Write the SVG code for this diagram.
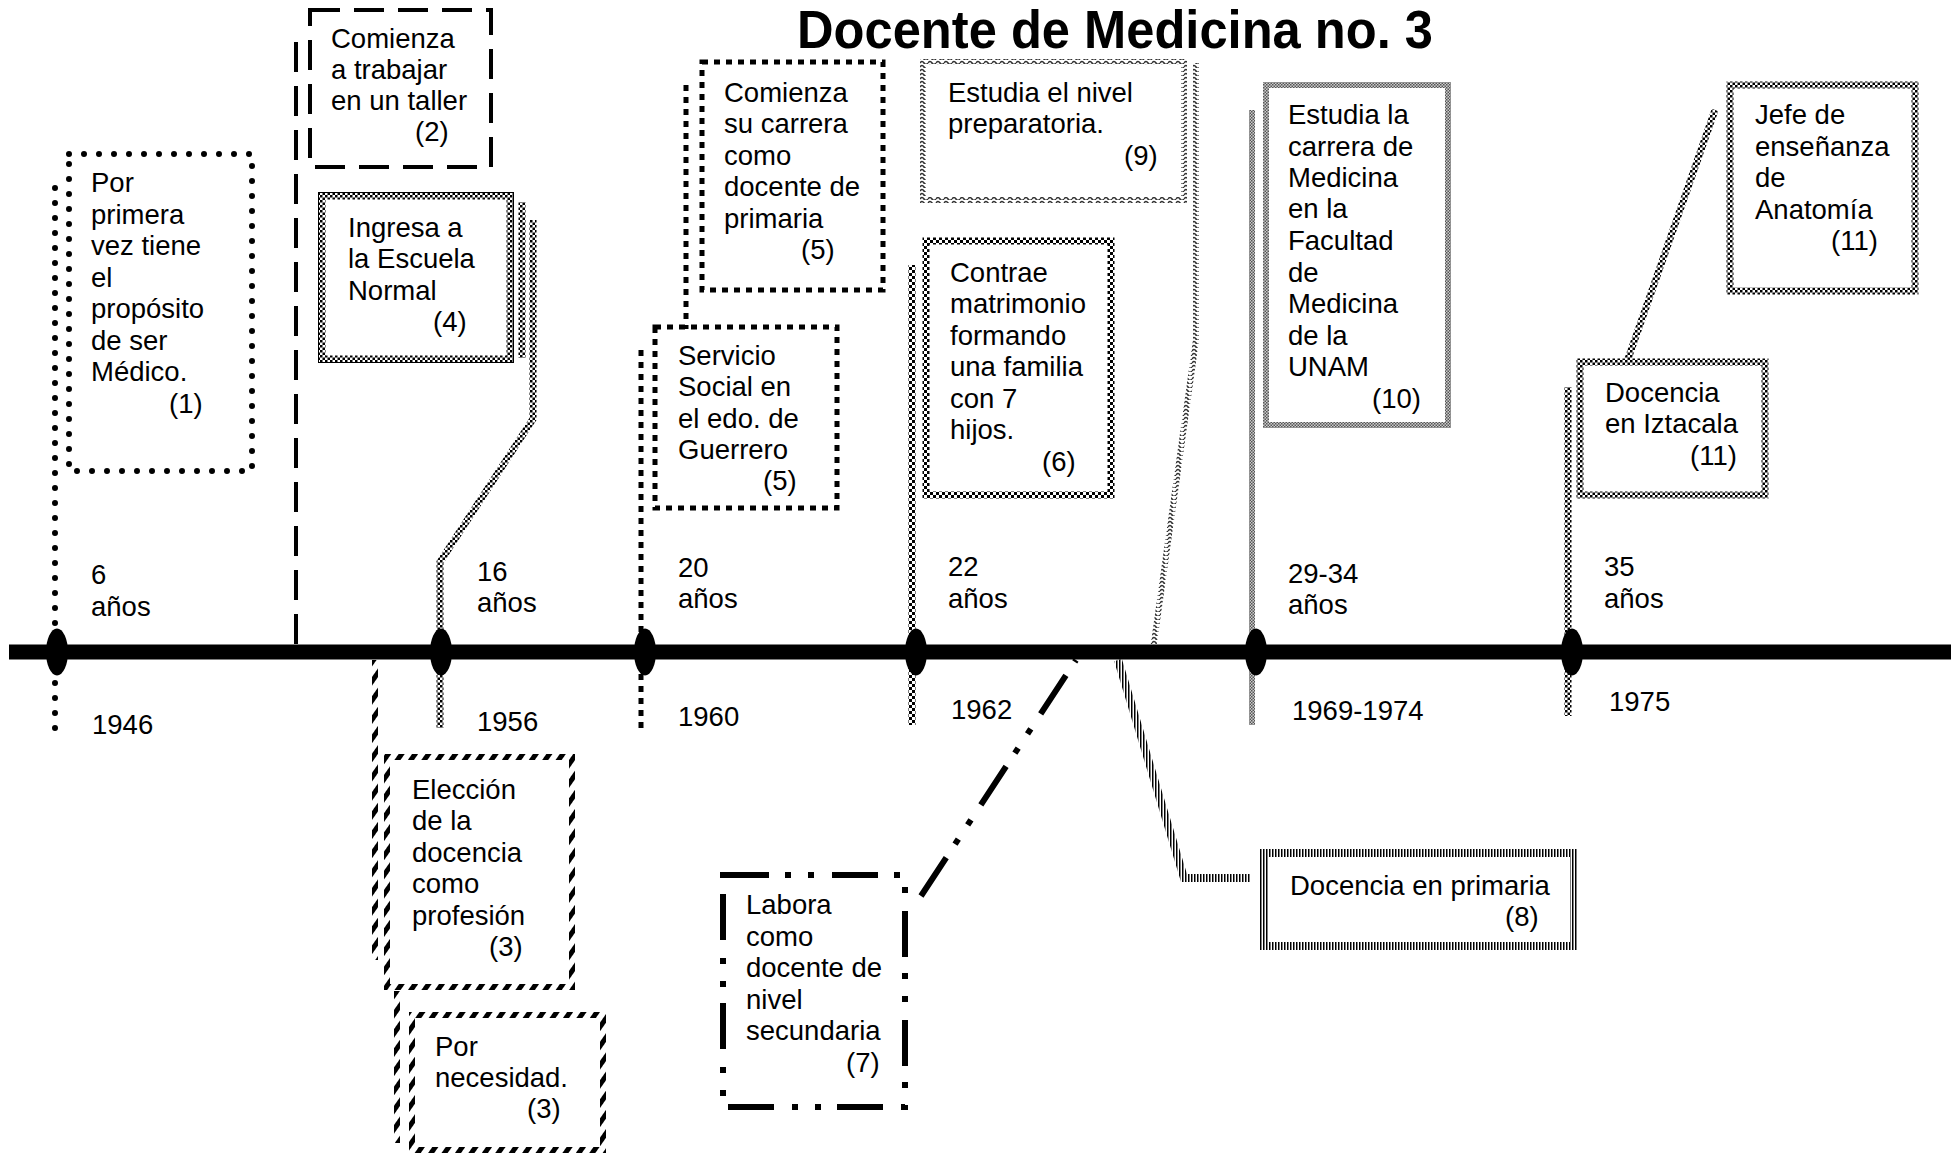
<svg xmlns="http://www.w3.org/2000/svg" width="1959" height="1155" viewBox="0 0 1959 1155">
<defs>
<pattern id="chk" width="5" height="5" patternUnits="userSpaceOnUse"><rect width="5" height="5" fill="#fff"/><rect width="2.5" height="2.5" fill="#000"/><rect x="2.5" y="2.5" width="2.5" height="2.5" fill="#000"/></pattern>
<pattern id="chk6" width="6" height="6" patternUnits="userSpaceOnUse"><rect width="6" height="6" fill="#fff"/><rect width="3" height="3" fill="#000"/><rect x="3" y="3" width="3" height="3" fill="#000"/></pattern>
<pattern id="chkg" width="3" height="3" patternUnits="userSpaceOnUse"><rect width="3" height="3" fill="#ccc"/><rect width="1.5" height="1.5" fill="#555"/><rect x="1.5" y="1.5" width="1.5" height="1.5" fill="#555"/></pattern>
<pattern id="vstr" width="3" height="3" patternUnits="userSpaceOnUse"><rect width="3" height="3" fill="#fff"/><rect width="1.5" height="3" fill="#000"/></pattern>
<pattern id="diag" width="11" height="11" patternUnits="userSpaceOnUse" patternTransform="rotate(35)"><rect width="11" height="11" fill="#fff"/><rect width="5" height="11" fill="#000"/></pattern>
<pattern id="wave" width="8" height="4" patternUnits="userSpaceOnUse"><rect width="8" height="4" fill="#fff"/><path d="M0,3 Q2,0 4,3 T8,3" fill="none" stroke="#333" stroke-width="1.6"/></pattern>
</defs>
<style>
text{font-family:"Liberation Sans",Arial,sans-serif;font-size:27.5px;fill:#000}
.title{font-family:"Liberation Sans Narrow","Liberation Sans",Arial,sans-serif;font-size:54px;font-weight:bold}
.box{fill:#fff}
.dotr{fill:none;stroke:#000;stroke-width:6;stroke-linecap:round;stroke-dasharray:0 15}
.sqd{fill:none;stroke:#000;stroke-width:5;stroke-dasharray:6 6}
.dash{fill:none;stroke:#000;stroke-width:4;stroke-dasharray:30 14}
.chk{fill:none;stroke:url(#chk);stroke-width:7}
.chk6{fill:none;stroke:url(#chk6);stroke-width:7}
.chkg{fill:none;stroke:url(#chkg);stroke-width:6}
.vstr{fill:none;stroke:url(#vstr);stroke-width:8}
.diag{fill:none;stroke:url(#diag);stroke-width:6}
.wave{fill:none;stroke:url(#wave);stroke-width:6}
.ddd{fill:none;stroke:#000;stroke-width:6;stroke-dasharray:46 16 6 17 6 18}
.edge{fill:none;stroke:#000;stroke-width:1}
</style>
<rect width="1959" height="1155" fill="#fff"/>
<text class="title" x="797" y="48" textLength="636" lengthAdjust="spacingAndGlyphs">Docente de Medicina no. 3</text>

<g id="connectors">
<line class="dotr" x1="55" y1="188" x2="55" y2="737"/>
<line class="dash" x1="296" y1="42" x2="296" y2="648"/>
<line class="chk" x1="522" y1="202" x2="522" y2="358"/>
<polyline class="chk" points="533,220 533,419 440,562 440,728"/>
<line class="diag" x1="375" y1="660" x2="375" y2="960"/>
<line class="diag" x1="397" y1="991" x2="397" y2="1143"/>
<line class="sqd" x1="686" y1="85" x2="686" y2="329"/>
<line class="sqd" x1="641" y1="350" x2="641" y2="728"/>
<line class="chk6" x1="912" y1="265" x2="912" y2="725"/>
<polyline class="wave" points="1196,63 1196,340 1153,650"/>
<line class="ddd" x1="921" y1="896" x2="1076" y2="660" stroke-width="5"/>
<polyline class="vstr" points="1118,660 1184,878 1250,878"/>
<line class="chkg" x1="1252" y1="110" x2="1252" y2="725"/>
<line class="chk" x1="1568" y1="387" x2="1568" y2="716"/>
<line class="chk" x1="1715" y1="110" x2="1628" y2="359"/>
</g>

<g id="timeline">
<line x1="9" y1="652" x2="1951" y2="652" stroke="#000" stroke-width="15"/>
<ellipse cx="57" cy="652" rx="11" ry="23.5"/>
<ellipse cx="441" cy="652" rx="11" ry="23.5"/>
<ellipse cx="645" cy="652" rx="11" ry="23.5"/>
<ellipse cx="916" cy="652" rx="11" ry="23.5"/>
<ellipse cx="1256" cy="652" rx="11" ry="23.5"/>
<ellipse cx="1572" cy="652" rx="11" ry="23.5"/>
<text x="91" y="584">6</text><text x="91" y="616">años</text><text x="92" y="734">1946</text>
<text x="477" y="581">16</text><text x="477" y="612">años</text><text x="477" y="731">1956</text>
<text x="678" y="577">20</text><text x="678" y="608">años</text><text x="678" y="726">1960</text>
<text x="948" y="576">22</text><text x="948" y="608">años</text><text x="951" y="719">1962</text>
<text x="1288" y="583">29-34</text><text x="1288" y="614">años</text><text x="1292" y="720">1969-1974</text>
<text x="1604" y="576">35</text><text x="1604" y="608">años</text><text x="1609" y="711">1975</text>
</g>

<g id="n1">
<rect class="box dotr" x="69" y="154" width="183" height="317"/>
<text x="91" y="192">Por</text><text x="91" y="223.5">primera</text><text x="91" y="255">vez tiene</text><text x="91" y="286.5">el</text><text x="91" y="318">propósito</text><text x="91" y="349.5">de ser</text><text x="91" y="381">Médico.</text><text x="169" y="412.5">(1)</text>
</g>
<g id="n2">
<rect class="box dash" x="310" y="10" width="181" height="157"/>
<text x="331" y="48">Comienza</text><text x="331" y="79">a trabajar</text><text x="331" y="110">en un taller</text><text x="415" y="141">(2)</text>
</g>
<g id="n4">
<rect class="box chk" x="322" y="196" width="188" height="163"/>
<rect class="edge" x="318.5" y="192.5" width="195" height="170"/>
<text x="348" y="237">Ingresa a</text><text x="348" y="268">la Escuela</text><text x="348" y="300">Normal</text><text x="433" y="331">(4)</text>
</g>
<g id="n3a">
<rect class="box diag" x="387" y="757" width="185" height="230"/>
<text x="412" y="799">Elección</text><text x="412" y="830">de la</text><text x="412" y="862">docencia</text><text x="412" y="893">como</text><text x="412" y="925">profesión</text><text x="489" y="956">(3)</text>
</g>
<g id="n3b">
<rect class="box diag" x="412" y="1015" width="191" height="135"/>
<text x="435" y="1056">Por</text><text x="435" y="1087">necesidad.</text><text x="527" y="1118">(3)</text>
</g>
<g id="n5a">
<rect class="box sqd" x="702" y="62" width="181" height="228"/>
<text x="724" y="102">Comienza</text><text x="724" y="133">su carrera</text><text x="724" y="165">como</text><text x="724" y="196">docente de</text><text x="724" y="228">primaria</text><text x="801" y="259">(5)</text>
</g>
<g id="n5b">
<rect class="box sqd" x="655" y="327" width="182" height="181"/>
<text x="678" y="365">Servicio</text><text x="678" y="396">Social en</text><text x="678" y="428">el edo. de</text><text x="678" y="459">Guerrero</text><text x="763" y="490">(5)</text>
</g>
<g id="n6">
<rect class="box chk6" x="926" y="241" width="185" height="254"/>
<text x="950" y="282">Contrae</text><text x="950" y="313">matrimonio</text><text x="950" y="345">formando</text><text x="950" y="376">una familia</text><text x="950" y="408">con 7</text><text x="950" y="439">hijos.</text><text x="1042" y="471">(6)</text>
</g>
<g id="n9">
<rect class="box wave" x="923" y="62" width="261" height="138"/>
<text x="948" y="102">Estudia el nivel</text><text x="948" y="133">preparatoria.</text><text x="1124" y="165">(9)</text>
</g>
<g id="n7">
<rect class="box ddd" x="723" y="875" width="182" height="232"/>
<text x="746" y="914">Labora</text><text x="746" y="946">como</text><text x="746" y="977">docente de</text><text x="746" y="1009">nivel</text><text x="746" y="1040">secundaria</text><text x="846" y="1072">(7)</text>
</g>
<g id="n8">
<rect class="box vstr" x="1264" y="853" width="310" height="93"/>
<text x="1290" y="895">Docencia en primaria</text><text x="1505" y="926">(8)</text>
</g>
<g id="n10">
<rect class="box chkg" x="1266" y="85" width="182" height="340"/>
<text x="1288" y="124">Estudia la</text><text x="1288" y="156">carrera de</text><text x="1288" y="187">Medicina</text><text x="1288" y="218">en la</text><text x="1288" y="250">Facultad</text><text x="1288" y="282">de</text><text x="1288" y="313">Medicina</text><text x="1288" y="345">de la</text><text x="1288" y="376">UNAM</text><text x="1372" y="408">(10)</text>
</g>
<g id="n11a">
<rect class="box chk" x="1580" y="362" width="185" height="133"/>
<text x="1605" y="402">Docencia</text><text x="1605" y="433">en Iztacala</text><text x="1690" y="465">(11)</text>
</g>
<g id="n11b">
<rect class="box chk" x="1730" y="85" width="185" height="206"/>
<text x="1755" y="124">Jefe de</text><text x="1755" y="156">enseñanza</text><text x="1755" y="187">de</text><text x="1755" y="219">Anatomía</text><text x="1831" y="250">(11)</text>
</g>
</svg>
